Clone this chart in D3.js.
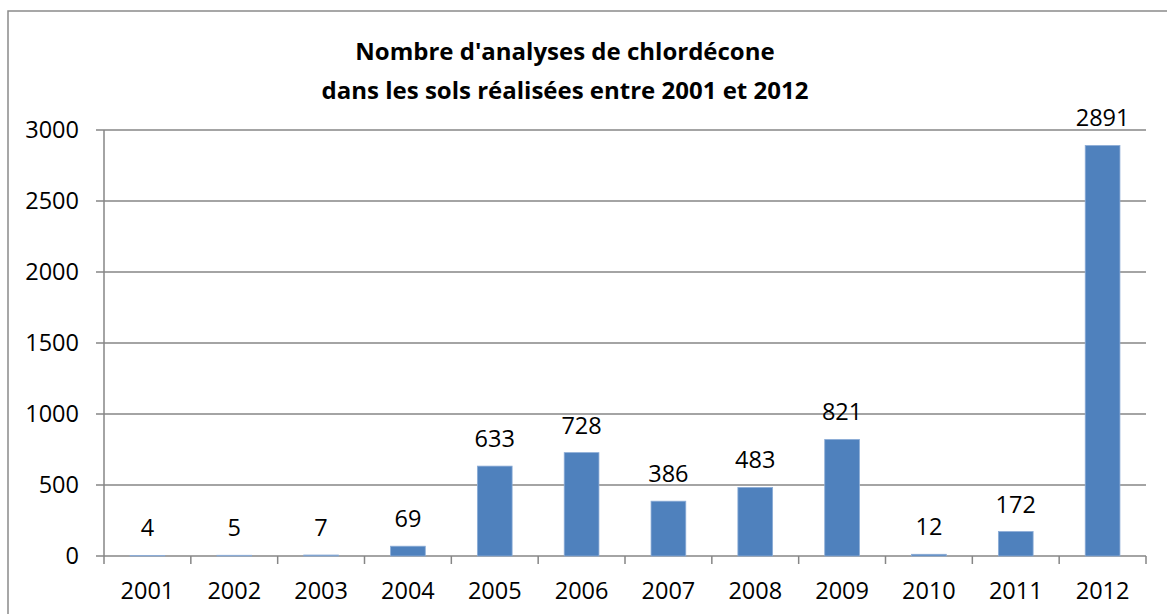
<!DOCTYPE html>
<html>
<head>
<meta charset="utf-8">
<script src="https://cdn.jsdelivr.net/npm/d3@7"></script>
<style>
    body { margin: 0; background: #fff; }
    svg text { font-family: "Open Sans", "Noto Sans", sans-serif; fill: #000; }
</style>
</head>
<body>
<div class="main"></div>
<script>
const years = ["2001", "2002", "2003", "2004", "2005", "2006", "2007", "2008", "2009", "2010", "2011", "2012"];
const analyses = [4, 5, 7, 69, 633, 728, 386, 483, 821, 12, 172, 2891];
const yTicks = [0, 500, 1000, 1500, 2000, 2500, 3000];
const titleLines = ["Nombre d'analyses de chlordécone", "dans les sols réalisées entre 2001 et 2012"];

const width = 1167, height = 614;
const margin = { top: 130, right: 21, bottom: 58, left: 104 };
const gray = "#868686";

const svg = d3.select(".main").append("svg")
    .attr("width", width)
    .attr("height", height);

// outer frame of the chart object (runs off the right/bottom edges)
svg.append("rect")
    .attr("x", 8)
    .attr("y", 11)
    .attr("width", width)
    .attr("height", height)
    .attr("fill", "none")
    .attr("stroke", "#8a8a8a")
    .attr("stroke-width", 1.5);

const x = d3.scaleBand()
    .domain(years)
    .range([margin.left, width - margin.right])
    .paddingInner(0.6)
    .paddingOuter(0.3);

const y = d3.scaleLinear()
    .domain([0, 3000])
    .range([height - margin.bottom, margin.top]);

// horizontal gridlines
svg.append("g")
    .selectAll("line")
    .data(yTicks)
    .enter().append("line")
    .attr("x1", margin.left - 8)
    .attr("x2", width - margin.right)
    .attr("y1", d => y(d))
    .attr("y2", d => y(d))
    .attr("stroke", gray)
    .attr("stroke-width", 1.5);

// y axis line and labels
svg.append("line")
    .attr("x1", margin.left)
    .attr("x2", margin.left)
    .attr("y1", y(3000))
    .attr("y2", y(0))
    .attr("stroke", gray)
    .attr("stroke-width", 1.5);

svg.append("g")
    .selectAll("text")
    .data(yTicks)
    .enter().append("text")
    .attr("x", 79)
    .attr("y", d => y(d))
    .attr("dy", "0.35em")
    .attr("text-anchor", "end")
    .style("font-size", "23.5px")
    .text(d => d);

// category tick marks on the band boundaries
const step = x.step();
svg.append("g")
    .selectAll("line")
    .data(d3.range(years.length + 1))
    .enter().append("line")
    .attr("x1", i => margin.left + i * step)
    .attr("x2", i => margin.left + i * step)
    .attr("y1", y(0))
    .attr("y2", y(0) + 8)
    .attr("stroke", gray)
    .attr("stroke-width", 1.5);

svg.append("g")
    .selectAll("text")
    .data(years)
    .enter().append("text")
    .attr("x", d => x(d) + x.bandwidth() / 2)
    .attr("y", y(0) + 43)
    .attr("text-anchor", "middle")
    .style("font-size", "23.5px")
    .text(d => d);

// bars
svg.append("g")
    .selectAll("rect")
    .data(analyses)
    .enter().append("rect")
    .attr("x", (d, i) => x(years[i]))
    .attr("y", d => y(d))
    .attr("width", x.bandwidth())
    .attr("height", d => y(0) - y(d))
    .attr("fill", "#4f81bd")
    .attr("stroke", "#8cacd6")
    .attr("stroke-width", 0.8);

// data labels
svg.append("g")
    .selectAll("text")
    .data(analyses)
    .enter().append("text")
    .attr("x", (d, i) => x(years[i]) + x.bandwidth() / 2)
    .attr("y", d => y(d) - 19)
    .attr("text-anchor", "middle")
    .style("font-size", "23.5px")
    .text(d => d);

// title
svg.append("g")
    .selectAll("text")
    .data(titleLines)
    .enter().append("text")
    .attr("x", 565)
    .attr("y", (d, i) => 60 + i * 39)
    .attr("text-anchor", "middle")
    .style("font-size", "24px")
    .style("font-weight", "bold")
    .text(d => d);
</script>
</body>
</html>
